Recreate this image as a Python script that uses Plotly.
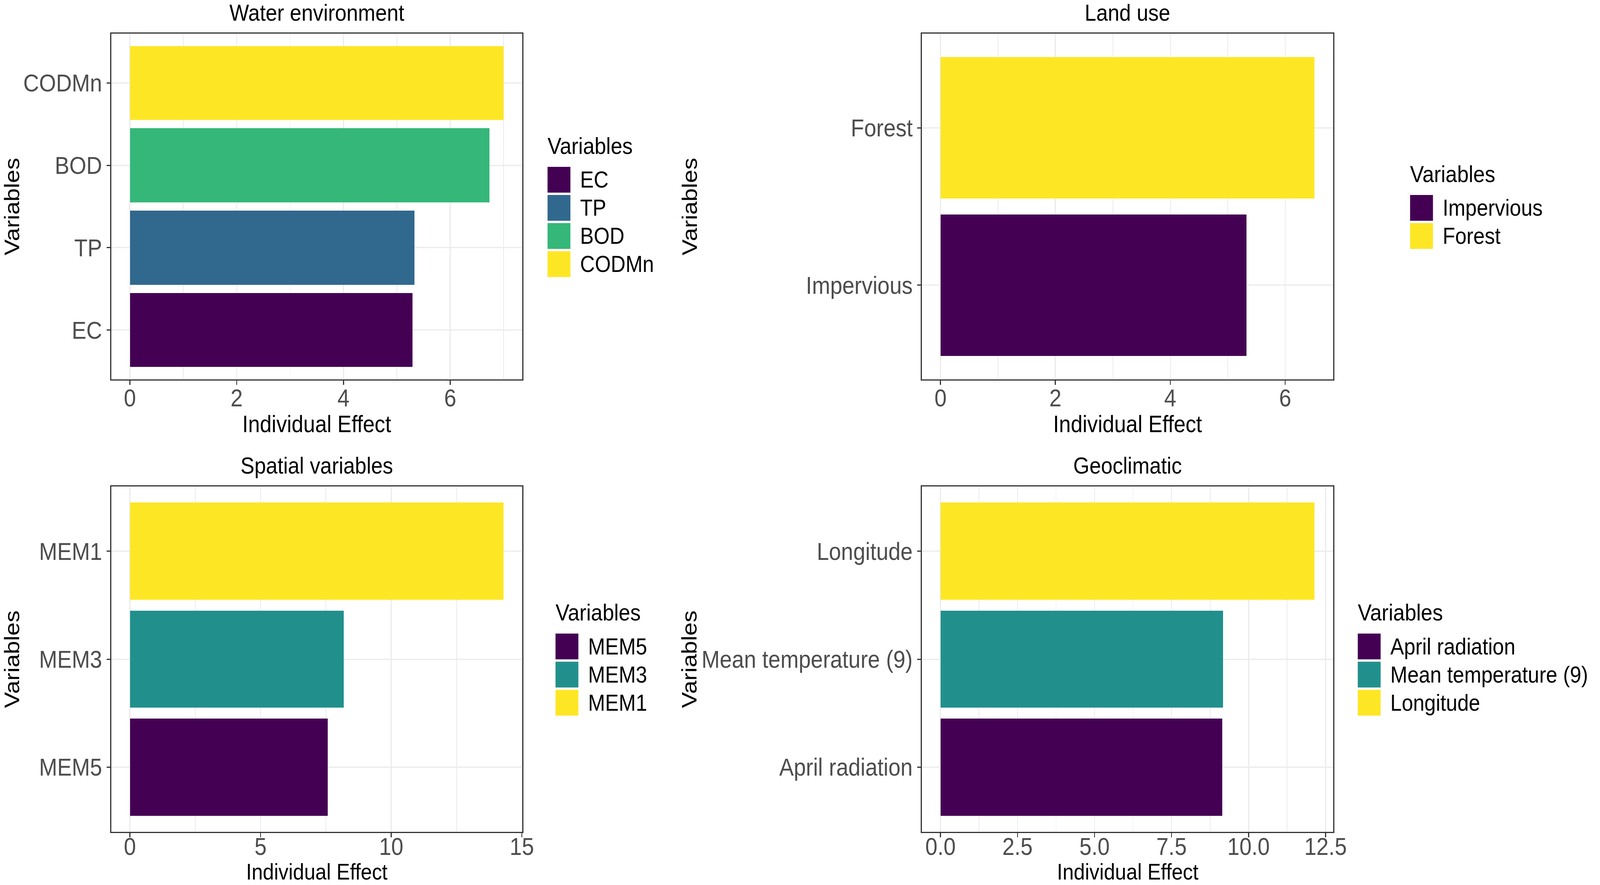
import plotly.graph_objects as go

# values
water_vars = ["EC", "TP", "BOD", "CODMn"]
water_effect = [5.29, 5.33, 6.73, 7.00]

land_vars = ["Impervious", "Forest"]
land_effect = [5.33, 6.51]

spatial_vars = ["MEM5", "MEM3", "MEM1"]
spatial_effect = [7.58, 8.18, 14.30]

geo_vars = ["April radiation", "Mean temperature (9)", "Longitude"]
geo_effect = [9.15, 9.17, 12.14]

viridis = {
    2: ["#440154", "#FDE725"],
    3: ["#440154", "#21908C", "#FDE725"],
    4: ["#440154", "#31688E", "#35B779", "#FDE725"],
}

W, H = 4617, 2265
FONT = "Liberation Sans, Arial, sans-serif"

col_px = [(321, 1507), (2660, 3847)]
row_px = [(86, 971), (1245, 2129)]


def px_x(p):
    return p / W


def px_y(p):
    return 1 - p / H


panels = [
    dict(title="Water environment", cats=water_vars, vals=water_effect,
         dtick=2, fmt="d", col=0, row=0, leg_x=1580),
    dict(title="Land use", cats=land_vars, vals=land_effect,
         dtick=2, fmt="d", col=1, row=0, leg_x=4069),
    dict(title="Spatial variables", cats=spatial_vars, vals=spatial_effect,
         dtick=5, fmt="d", col=0, row=1, leg_x=1603),
    dict(title="Geoclimatic", cats=geo_vars, vals=geo_effect,
         dtick=2.5, fmt=".1f", col=1, row=1, leg_x=3918),
]

fig = go.Figure()
annotations = []
shapes = []

for i, p in enumerate(panels):
    n = len(p["cats"])
    cols = viridis[n]
    suffix = "" if i == 0 else str(i + 1)
    x0, x1 = col_px[p["col"]]
    y0, y1 = row_px[p["row"]]
    bottom_row = p["row"] == 1

    fig.add_trace(go.Bar(
        x=p["vals"], y=p["cats"], orientation="h", width=0.9,
        marker=dict(color=cols, line=dict(width=0)),
        xaxis="x" + suffix, yaxis="y" + suffix, showlegend=False,
    ))

    vmax = max(p["vals"])
    fig.update_layout(**{
        "xaxis" + suffix: dict(
            domain=[px_x(x0), px_x(x1)], anchor="y" + suffix,
            range=[-0.05 * vmax, 1.05 * vmax], dtick=p["dtick"], tick0=0,
            tickformat=p["fmt"], showgrid=True, gridcolor="#EBEBEB", gridwidth=3,
            minor=dict(dtick=p["dtick"] / 2, tick0=0, showgrid=True,
                       gridcolor="#EBEBEB", gridwidth=1.5),
            zeroline=False, showline=True, mirror=True, linecolor="#333333",
            linewidth=2.5, ticks="outside", ticklen=11, tickwidth=3,
            ticklabelstandoff=-30 if bottom_row else -20,
            tickcolor="#333333", tickfont=dict(size=63, color="#4D4D4D", family=FONT),
            automargin=False, fixedrange=True,
        ),
        "yaxis" + suffix: dict(
            domain=[px_y(y1), px_y(y0)], anchor="x" + suffix,
            type="category", categoryorder="array", categoryarray=p["cats"],
            range=[-0.6, n - 0.4], showgrid=True, gridcolor="#EBEBEB", gridwidth=3,
            zeroline=False, showline=True, mirror=True, linecolor="#333333",
            linewidth=2.5, ticks="outside", ticklen=11, tickwidth=3,
            tickcolor="#333333", tickfont=dict(size=63, color="#4D4D4D", family=FONT),
            automargin=False, fixedrange=True,
        ),
    })

    xc = (x0 + x1) / 2
    yc = (y0 + y1) / 2
    # panel title, axis titles
    annotations.append(dict(text=p["title"], x=px_x(xc), y=px_y(y0 - 54),
                            font=dict(size=60, color="black")))
    if not bottom_row:
        annotations.append(dict(text="Individual Effect", x=px_x(xc), y=px_y(y1 + 114),
                                font=dict(size=61, color="black")))
    else:
        # bottom row: keep the title inside the page edge
        annotations.append(dict(text="Individual Effect", x=px_x(xc), y=0,
                                yanchor="bottom", font=dict(size=58, color="black")))
    yt_x = 34 if p["col"] == 0 else 1989
    annotations.append(dict(text="Variables", x=px_x(yt_x), y=px_y(yc), textangle=-90,
                            font=dict(size=61, color="black")))

    # legend (ggplot-style big keys)
    key, pitch = 66, 72
    top = yc - (75 + n * pitch) / 2 + 5
    lx = p["leg_x"]
    annotations.append(dict(text="Variables", x=px_x(lx - 2), y=px_y(top + 21),
                            xanchor="left", font=dict(size=60, color="black")))
    for k, (name, c) in enumerate(zip(p["cats"], cols)):
        kt = top + 75 + k * pitch
        shapes.append(dict(type="rect", xref="paper", yref="paper",
                           x0=px_x(lx), x1=px_x(lx + key),
                           y0=px_y(kt + key), y1=px_y(kt),
                           fillcolor=c, line=dict(width=0)))
        annotations.append(dict(text=name, x=px_x(lx + 92), y=px_y(kt + key / 2),
                                xanchor="left", font=dict(size=59, color="black")))

for a in annotations:
    a.setdefault("xanchor", "center")
    a.setdefault("yanchor", "middle")
    a.update(xref="paper", yref="paper", showarrow=False)

fig.update_layout(
    width=W, height=H,
    margin=dict(l=0, r=0, t=0, b=0),
    paper_bgcolor="white", plot_bgcolor="white",
    font=dict(family=FONT, color="black"),
    showlegend=False,
    annotations=annotations,
    shapes=shapes,
    bargap=0,
)

# the window can come out narrower than the figure: stretch the page to fit it
fit_js = """
var gd = document.getElementById('{plot_id}');
document.body.style.margin = '0';
document.body.style.overflow = 'hidden';
var sx = window.innerWidth / %d, sy = window.innerHeight / %d;
gd.style.transformOrigin = '0 0';
gd.style.transform = 'scale(' + sx + ',' + sy + ')';
""" % (W, H)

fig.write_html("out.html", post_script=fit_js, config={"displayModeBar": False})
